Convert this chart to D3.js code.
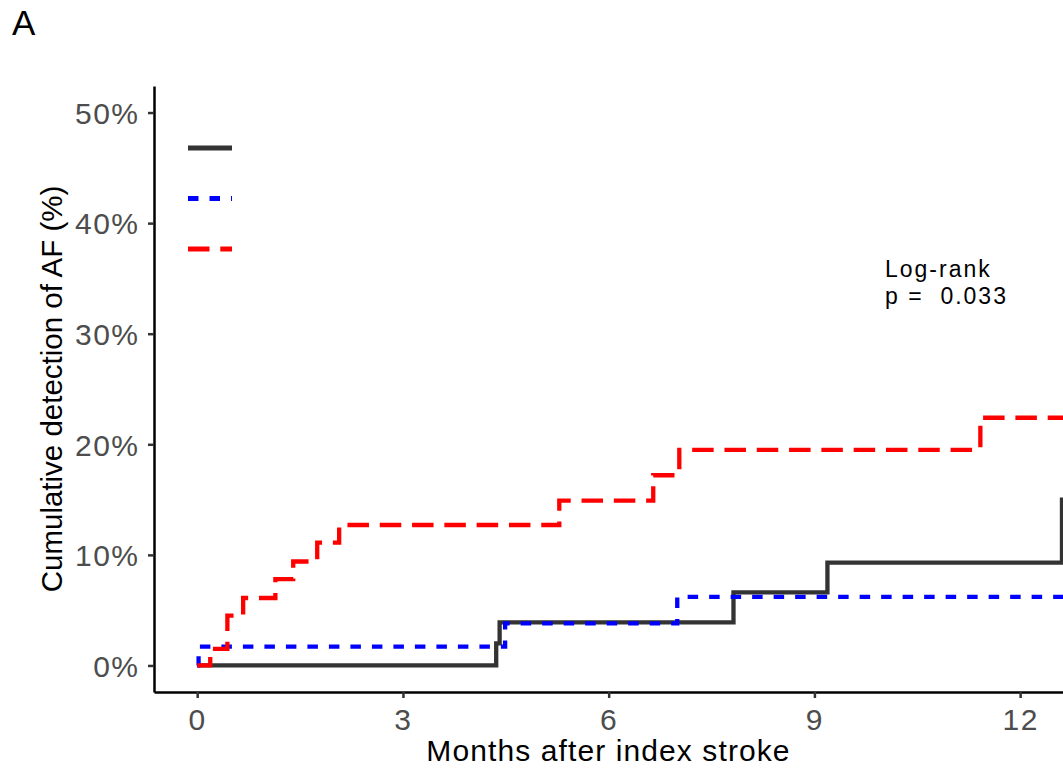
<!DOCTYPE html>
<html>
<head>
<meta charset="utf-8">
<script src="https://cdn.jsdelivr.net/npm/d3@7"></script>
<style>
  body { margin: 0; background: #fff; }
  text { font-family: "Liberation Sans", Arial, sans-serif; }
</style>
</head>
<body>
<div id="plot"></div>
<script>
// Values: months after stroke / cumulative detection (%)
const blackTimes  = [0, 4.36, 4.41, 7.82, 9.19, 12.61];
const blackValues = [0, 2.0, 3.9, 6.6, 9.3, 15.0];

const blueTimes   = [0, 0.02, 4.49, 7.0];
const blueValues  = [0, 1.7, 3.8, 6.2];

const redTimes    = [0, 0.19, 0.44, 0.67, 1.14, 1.40, 1.75, 2.07, 5.28, 6.65, 7.03, 11.42];
const redValues   = [0, 1.5, 4.5, 6.1, 7.8, 9.4, 11.1, 12.7, 14.9, 17.2, 19.5, 22.4];

const followUpEnd = 12.625;

const xTicks = [0, 3, 6, 9, 12];
const yTicks = [0, 10, 20, 30, 40, 50];

const seriesColors = ["#333333", "#0000ff", "#ff0000"];
const seriesDashes = [null, "10.5,11", "21.5,10.8"];

// Define the dimensions and margins for the SVG
const margin = { top: 86, right: 0, bottom: 76, left: 154 },
    width  = 1063 - margin.left - margin.right,
    height = 768 - margin.top - margin.bottom;

const root = d3.select("#plot")
    .append("svg")
    .attr("width",  1063)
    .attr("height", 768);

const svg = root.append("g")
    .attr("transform", `translate(${margin.left}, ${margin.top})`);

// Scales (ggplot style 5% expansion on the left / bottom)
const x = d3.scaleLinear()
    .domain([-0.63, followUpEnd])
    .range([0, width]);

const y = d3.scaleLinear()
    .domain([-2.4, 52.4])
    .range([height, 0]);

// Panel label
root.append("text")
    .attr("x", 12)
    .attr("y", 35)
    .style("font-size", "35px")
    .attr("fill", "#000")
    .text("A");

// Y axis
const yAxis = svg.append("g")
    .call(d3.axisLeft(y).tickValues(yTicks).tickFormat(d => d + "%")
        .tickSize(6).tickSizeOuter(0).tickPadding(8.5));

// X axis
const xAxis = svg.append("g")
    .attr("transform", `translate(0, ${height})`)
    .call(d3.axisBottom(x).tickValues(xTicks)
        .tickSize(6).tickSizeOuter(0).tickPadding(10.7));

[xAxis, yAxis].forEach(ax => {
    ax.select(".domain").attr("stroke", "#000").attr("stroke-width", 2.5);
    ax.selectAll(".tick line").attr("stroke", "#333").attr("stroke-width", 2.5);
    ax.selectAll(".tick text")
        .attr("fill", "#4d4d4d")
        .style("font-size", "30px")
        .style("font-family", "'Liberation Sans', Arial, sans-serif")
        .style("letter-spacing", "1.5px");
});
yAxis.selectAll(".tick text").attr("dy", "0.36em");

// Axis titles
svg.append("text")
    .attr("x", width / 2)
    .attr("y", 675)
    .attr("text-anchor", "middle")
    .style("font-size", "30px")
    .style("letter-spacing", "1.1px")
    .text("Months after index stroke");

svg.append("text")
    .attr("transform", "rotate(-90)")
    .attr("x", -height / 2)
    .attr("y", -92)
    .attr("text-anchor", "middle")
    .style("font-size", "29.5px")
    .text("Cumulative detection of AF (%)");

// Step curves
const series = [
    { times: blackTimes, values: blackValues },
    { times: blueTimes,  values: blueValues },
    { times: redTimes,   values: redValues }
];

const stepLine = d3.line()
    .x(d => x(d[0]))
    .y(d => y(d[1]))
    .curve(d3.curveStepAfter);

svg.append("clipPath")
    .attr("id", "panel")
    .append("rect")
    .attr("width", width)
    .attr("height", height);

series.forEach((s, i) => {
    const pts = s.times.map((t, k) => [t, s.values[k]]);
    pts.push([followUpEnd, s.values[s.values.length - 1]]);
    svg.append("path")
        .datum(pts)
        .attr("clip-path", "url(#panel)")
        .attr("fill", "none")
        .attr("stroke", seriesColors[i])
        .attr("stroke-width", 4.3)
        .attr("stroke-dasharray", seriesDashes[i])
        .attr("d", stepLine);
});

// Legend keys (labels are not legible in the source)
const legend = root.append("g")
    .attr("transform", "translate(188, 148)");

seriesColors.forEach((c, i) => {
    legend.append("line")
        .attr("x1", 0)
        .attr("x2", 44)
        .attr("y1", i * 50.5)
        .attr("y2", i * 50.5)
        .attr("stroke", c)
        .attr("stroke-width", 4.8)
        .attr("stroke-dasharray", seriesDashes[i]);
});

// Log-rank annotation
const note = root.append("text")
    .attr("x", 885)
    .attr("y", 277)
    .style("font-size", "23px")
    .style("letter-spacing", "2px")
    .style("white-space", "pre")
    .attr("fill", "#000");
note.append("tspan").attr("x", 885).text("Log-rank");
note.append("tspan").attr("x", 885).attr("dy", 26.5).text("p =  0.033");
</script>
</body>
</html>
